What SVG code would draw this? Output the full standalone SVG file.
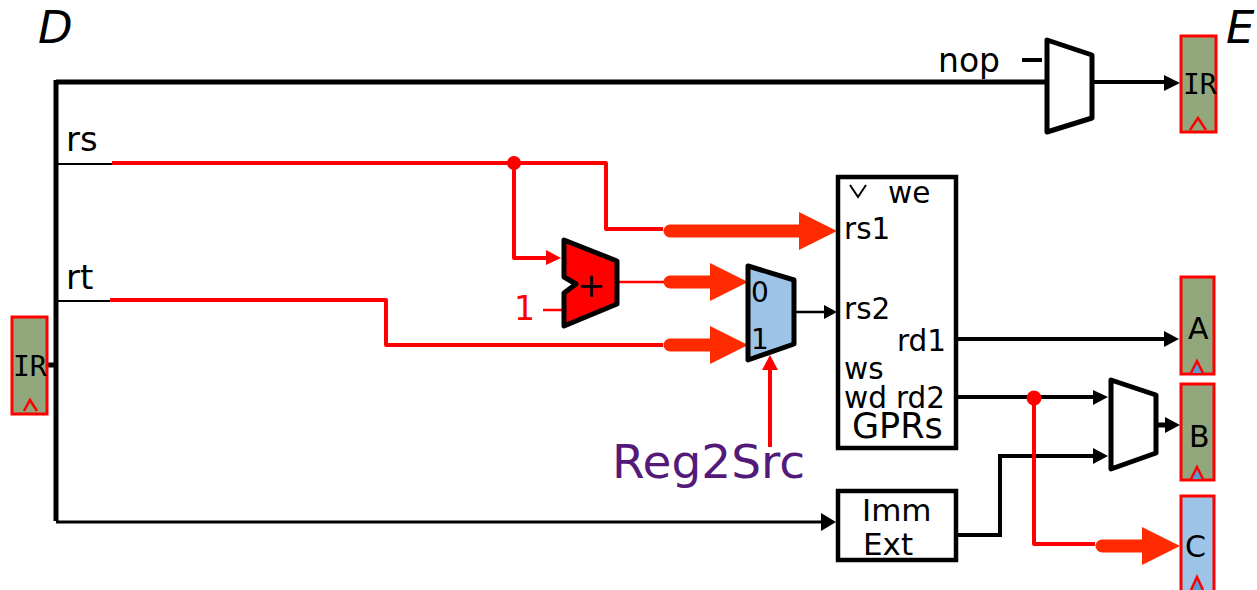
<svg xmlns="http://www.w3.org/2000/svg" width="1257" height="590" viewBox="0 0 1257 590">
<style>
text{font-family:"DejaVu Sans",Verdana,sans-serif;fill:#000}
.t{font-size:29.500px}
.it{font-size:45px;font-style:italic}
.ir{font-family:"DejaVu Sans Mono","DejaVu Sans",monospace;font-size:28px}
.reg{fill:#93a77d;stroke:#f00;stroke-width:3}
.regc{fill:#9dc3e6;stroke:#f00;stroke-width:3}
.ck{fill:none;stroke:#f00;stroke-width:2.5}
.ckf{fill:#5b9bd5;stroke:#f00;stroke-width:2.5}
.mux{fill:#fff;stroke:#000;stroke-width:5;stroke-linejoin:round}
.k{fill:none;stroke:#000}
.r{fill:none;stroke:#f00;stroke-linejoin:round}
.big{fill:#ff2a00}
.bl{fill:none;stroke:#ff2a00;stroke-width:13;stroke-linecap:round}
</style>
<g id="connectors">
<path class="k" stroke-width="5" d="M56 82H1047M56 80V521M47 365H56"/>
<path class="k" stroke-width="3" d="M56 522H824"/><path d="M836 522L821 513V531Z"/>
<path class="k" stroke-width="2" d="M58 164H112M58 301H110"/>
<path class="k" stroke-width="4" d="M1094 82H1168"/><path d="M1180 83L1164 75V91Z"/>
<path class="k" stroke-width="4" d="M1022 60H1042"/>
<path class="r" stroke-width="4" d="M112 163H606V229H663"/>
<path class="bl" d="M670 231H805"/><path class="big" d="M837 231L799 212V250Z"/>
<circle cx="514" cy="163" r="7" fill="#f00"/>
<path class="r" stroke-width="4" d="M514 163V258H550"/><path d="M561 258L546 250V265Z" fill="#f00"/>
<path class="r" stroke-width="2.500" d="M543 310H563M618 282H664"/>
<path class="bl" d="M670 282H715"/><path class="big" d="M748 282L710 263V301Z"/>
<path class="r" stroke-width="4" d="M110 300H386V345H663"/>
<path class="bl" d="M670 345H715"/><path class="big" d="M748 345L710 326V364Z"/>
<path class="r" stroke-width="4" d="M770 447V370"/><path d="M770 355L762 370H778Z" fill="#f00"/>
<path class="k" stroke-width="2.500" d="M796 312H826"/><path d="M837 312L824 305V319Z"/>
<path class="k" stroke-width="4" d="M957 339H1168"/><path d="M1179 339L1164 331V347Z"/>
<path class="k" stroke-width="4" d="M957 397H1098"/><path d="M1108 397L1093 390V405Z"/>
<path class="k" stroke-width="4" d="M958 535H1000V456H1098"/><path d="M1108 456L1093 448V464Z"/>
<path class="k" stroke-width="5" d="M1157 425H1168"/><path d="M1180 425L1165 417V433Z"/>
<path class="r" stroke-width="4" d="M1034 398V544H1095"/><circle cx="1034" cy="398" r="7.500" fill="#f00"/>
<path class="bl" d="M1102 546H1150"/><path class="big" d="M1180 546L1142 527V565Z"/>
</g>
<g id="label-d"><text class="it" x="38" y="43">D</text></g>
<g id="label-e"><text class="it" x="1226" y="43">E</text></g>
<g id="label-rs"><text x="66" y="151" style="font-size:34px">rs</text></g>
<g id="label-rt"><text x="66" y="289" style="font-size:34px">rt</text></g>
<g id="label-nop"><text x="938" y="72" style="font-size:33px">nop</text></g>
<g id="label-one"><text x="514" y="320" style="font-size:33px;fill:#f00">1</text></g>
<g id="label-reg2src"><text x="612" y="478" style="font-size:47px;fill:#531a7a">Reg2Src</text></g>
<g id="reg-ir-d"><rect class="reg" x="12" y="317" width="35" height="97"/><path class="ck" d="M24 411L30 400L37 411"/><text class="ir" x="13" y="376">IR</text></g>
<g id="reg-ir-e"><rect class="reg" x="1181" y="36" width="35" height="96"/><path class="ck" d="M1190 130L1198 118L1206 130"/><text class="ir" x="1183" y="94">IR</text></g>
<g id="reg-a"><rect class="reg" x="1181" y="277" width="33" height="97"/><path class="ckf" d="M1191 373L1197 361L1203 373"/><text x="1188" y="339" style="font-size:30px">A</text></g>
<g id="reg-b"><rect class="reg" x="1181" y="384" width="33" height="96"/><path class="ckf" d="M1191 479L1197 467L1203 479"/><text x="1189" y="447" style="font-size:30px">B</text></g>
<g id="reg-c"><path class="regc" d="M1181 590V496H1214V590"/><path class="ckf" d="M1191 590L1197 577L1203 590"/><text x="1185" y="557" style="font-size:30px">C</text></g>
<g id="mux-top"><path class="mux" d="M1047 40L1092 55V118L1047 132Z"/></g>
<g id="adder"><path d="M564 240L617 261V304L564 326V293L576 284L564 277Z" fill="#f00" stroke="#000" stroke-width="5" stroke-linejoin="round"/><text x="577" y="297" style="font-size:34px">+</text></g>
<g id="mux-reg"><path d="M748 266L794 280V344L748 360Z" fill="#9dc3e6" stroke="#000" stroke-width="5" stroke-linejoin="round"/><text x="751" y="302" style="font-size:28px">0</text><text x="751" y="349" style="font-size:28px">1</text></g>
<g id="gprs"><rect x="838" y="177" width="118" height="271" fill="#fff" stroke="#000" stroke-width="4.500"/>
<path class="k" stroke-width="2" d="M850 185L858 197L866 185"/>
<text class="t" x="888" y="203">we</text><text class="t" x="844" y="239">rs1</text><text class="t" x="844" y="319">rs2</text><text class="t" x="897" y="351">rd1</text><text class="t" x="844" y="379">ws</text><text class="t" x="844" y="408">wd</text><text class="t" x="896" y="408">rd2</text><text x="852" y="438" style="font-size:35px">GPRs</text></g>
<g id="mux-b"><path class="mux" d="M1111 380L1156 395V453L1111 469Z"/></g>
<g id="imm-ext"><rect x="838" y="491" width="118" height="69" fill="#fff" stroke="#000" stroke-width="4.500"/><text x="862" y="521" style="font-size:31px">Imm</text><text x="863" y="555" style="font-size:31px">Ext</text></g>
</svg>
